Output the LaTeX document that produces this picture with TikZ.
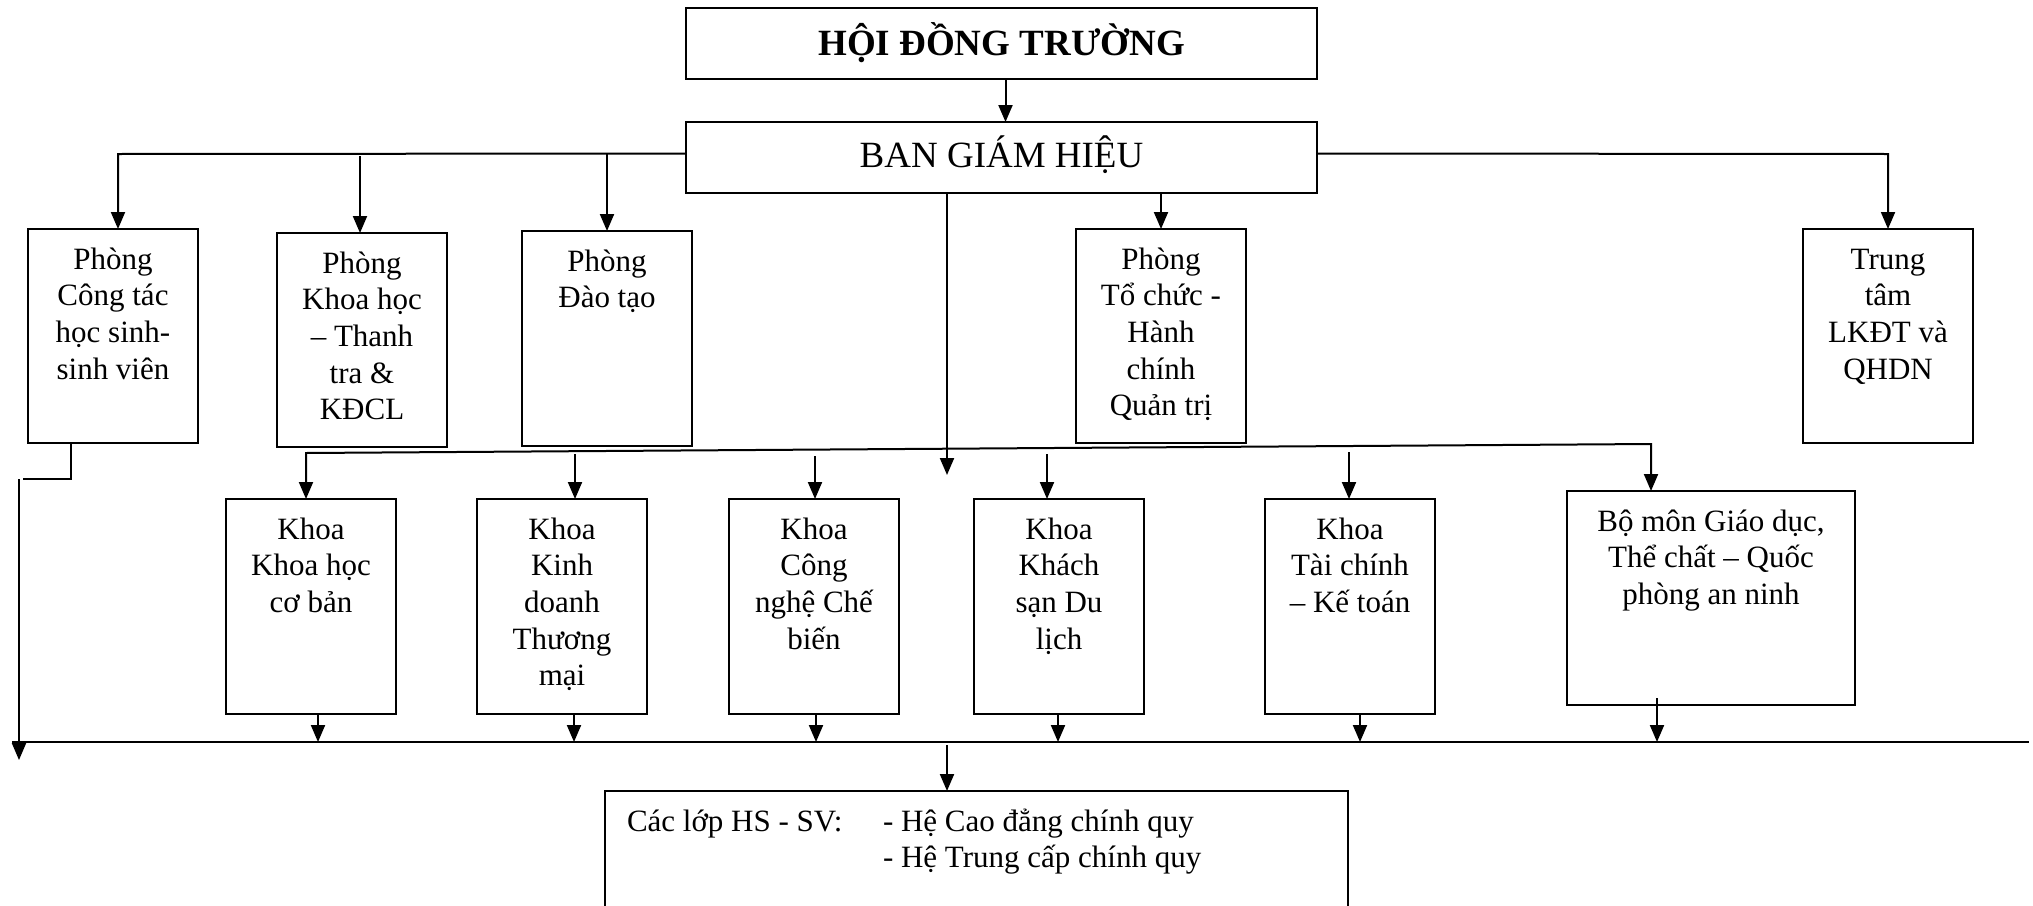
\documentclass[tikz,border=0pt]{standalone}
\usepackage{fontspec}
\setmainfont{Liberation Serif}
\usetikzlibrary{arrows.meta,calc}
\newcommand\bt{\fontsize{31}{36.7}\selectfont}
\newcommand\obox[6]{%
  \node[frame, minimum width=#4pt, minimum height=#5pt] (#1) at (#2,#3) {};
  \node[lbl] (#1t) at ([yshift=-11pt]#1.north) {\parbox[t]{#4pt}{\centering\rule{0pt}{28pt}#6}};
}
\begin{document}
\begin{tikzpicture}[x=1pt,y=-1pt,line width=2pt,
  frame/.style={draw, line width=2pt, inner sep=0pt, outer sep=0pt, anchor=north west},
  lbl/.style={anchor=north, inner sep=0pt, font=\bt, align=center},
  arr/.style={-{Triangle[length=17pt,width=14pt]}},
  darr/.style={{Triangle[length=17pt,width=14pt]}-{Triangle[length=17pt,width=14pt]}}]
\useasboundingbox (0,0) rectangle (2033,905);
\clip (0,0) rectangle (2033,905);
% top boxes
\node[frame, minimum width=631pt, minimum height=71pt] (hdt) at (686,8) {};
\node[font=\fontsize{37}{44}\selectfont\bfseries, anchor=base, inner sep=0pt] (hdtt) at ($(hdt.north)+(0,47)$) {HỘI ĐỒNG TRƯỜNG};
\node[frame, minimum width=631pt, minimum height=71pt] (bgh) at (686,122) {};
\node[font=\fontsize{37}{44}\selectfont, anchor=base, inner sep=0pt] (bght) at ($(bgh.north)+(0,45)$) {BAN GIÁM HIỆU};
% second row
\obox{b1}{28}{229}{170}{214}{Phòng\\Công tác\\học sinh-\\sinh viên}
\obox{b2}{277}{233}{170}{214}{Phòng\\Khoa học\\– Thanh\\tra \&\\KĐCL}
\obox{b3}{522}{231}{170}{215}{Phòng\\Đào tạo}
\obox{b4}{1076}{229}{170}{214}{Phòng\\Tổ chức -\\Hành\\chính\\Quản trị}
\obox{b5}{1803}{229}{170}{214}{Trung\\tâm\\LKĐT và\\QHDN}
% third row
\obox{b6}{226}{499}{170}{215}{Khoa\\Khoa học\\cơ bản}
\obox{b7}{477}{499}{170}{215}{Khoa\\Kinh\\doanh\\Thương\\mại}
\obox{b8}{729}{499}{170}{215}{Khoa\\Công\\nghệ Chế\\biến}
\obox{b9}{974}{499}{170}{215}{Khoa\\Khách\\sạn Du\\lịch}
\obox{b10}{1265}{499}{170}{215}{Khoa\\Tài chính\\– Kế toán}
\obox{b11}{1567}{491}{288}{214}{Bộ môn Giáo dục,\\Thể chất – Quốc\\phòng an ninh}
% bottom box
\node[frame, minimum width=743pt, minimum height=200pt] (b12) at (605,791) {};
\node[anchor=north west, inner sep=0pt, font=\bt] (b12t) at (626,802) {\parbox[t]{700pt}{\raggedright\rule{0pt}{28pt}\makebox[256pt][l]{Các lớp HS - SV:}- Hệ Cao đẳng chính quy\\\hspace*{256pt}- Hệ Trung cấp chính quy}};
% connectors top
\draw[arr] ([xshift=4pt]hdt.south) -- ([xshift=4pt]bgh.north);
\coordinate (lL) at (118,154);
\coordinate (a2) at (360,156);
\coordinate (a3) at (607,154);
\coordinate (rR) at (1888,154);
\draw[arr] ([yshift=4pt]bgh.west) -- (lL) -- (lL |- b1.north);
\draw[arr] (a2) -- (a2 |- b2.north);
\draw[arr] (a3) -- (a3 |- b3.north);
\draw[arr] ([yshift=4pt]bgh.east) -- (rR) -- (rR |- b5.north);
\coordinate (mid) at (947,475);
\draw[arr] (mid |- bgh.south) -- (mid);
\draw[arr] (b4.north |- bgh.south) -- (b4.north);
% distribution line to faculties
\coordinate (dL) at (306,453);
\coordinate (dR) at (1651,444);
\draw[darr] (dL |- b6.north) -- (dL) -- (dR) -- (dR |- b11.north);
\coordinate (a7) at (575,454);
\coordinate (a8) at (815,456);
\coordinate (a9) at (1047,454);
\coordinate (a10) at (1349,452);
\draw[arr] (a7) -- (a7 |- b7.north);
\draw[arr] (a8) -- (a8 |- b8.north);
\draw[arr] (a9) -- (a9 |- b9.north);
\draw[arr] (a10) -- (a10 |- b10.north);
% bus
\coordinate (busL) at (12,742);
\coordinate (busR) at (2029,742);
\draw (busL) -- (busR);
\coordinate (k6) at (318,742);
\coordinate (k7) at (574,742);
\coordinate (k8) at (816,742);
\coordinate (k9) at (1058,742);
\coordinate (k10) at (1360,742);
\coordinate (k11) at (1657,742);
\coordinate (k11s) at (1657,698);
\draw[arr] (k6 |- b6.south) -- (k6);
\draw[arr] (k7 |- b7.south) -- (k7);
\draw[arr] (k8 |- b8.south) -- (k8);
\draw[arr] (k9 |- b9.south) -- (k9);
\draw[arr] (k10 |- b10.south) -- (k10);
\draw[arr] (k11s) -- (k11);
% left side
\coordinate (c1) at (71,479);
\coordinate (c1e) at (23,479);
\draw (c1 |- b1.south) -- (c1) -- (c1e);
\coordinate (lv) at (19,479);
\coordinate (lvt) at (19,760);
\draw[arr] (lv) -- (lvt);
% to classes
\coordinate (bd) at (947,745);
\draw[arr] (bd) -- (bd |- b12.north);
\end{tikzpicture}
\end{document}
